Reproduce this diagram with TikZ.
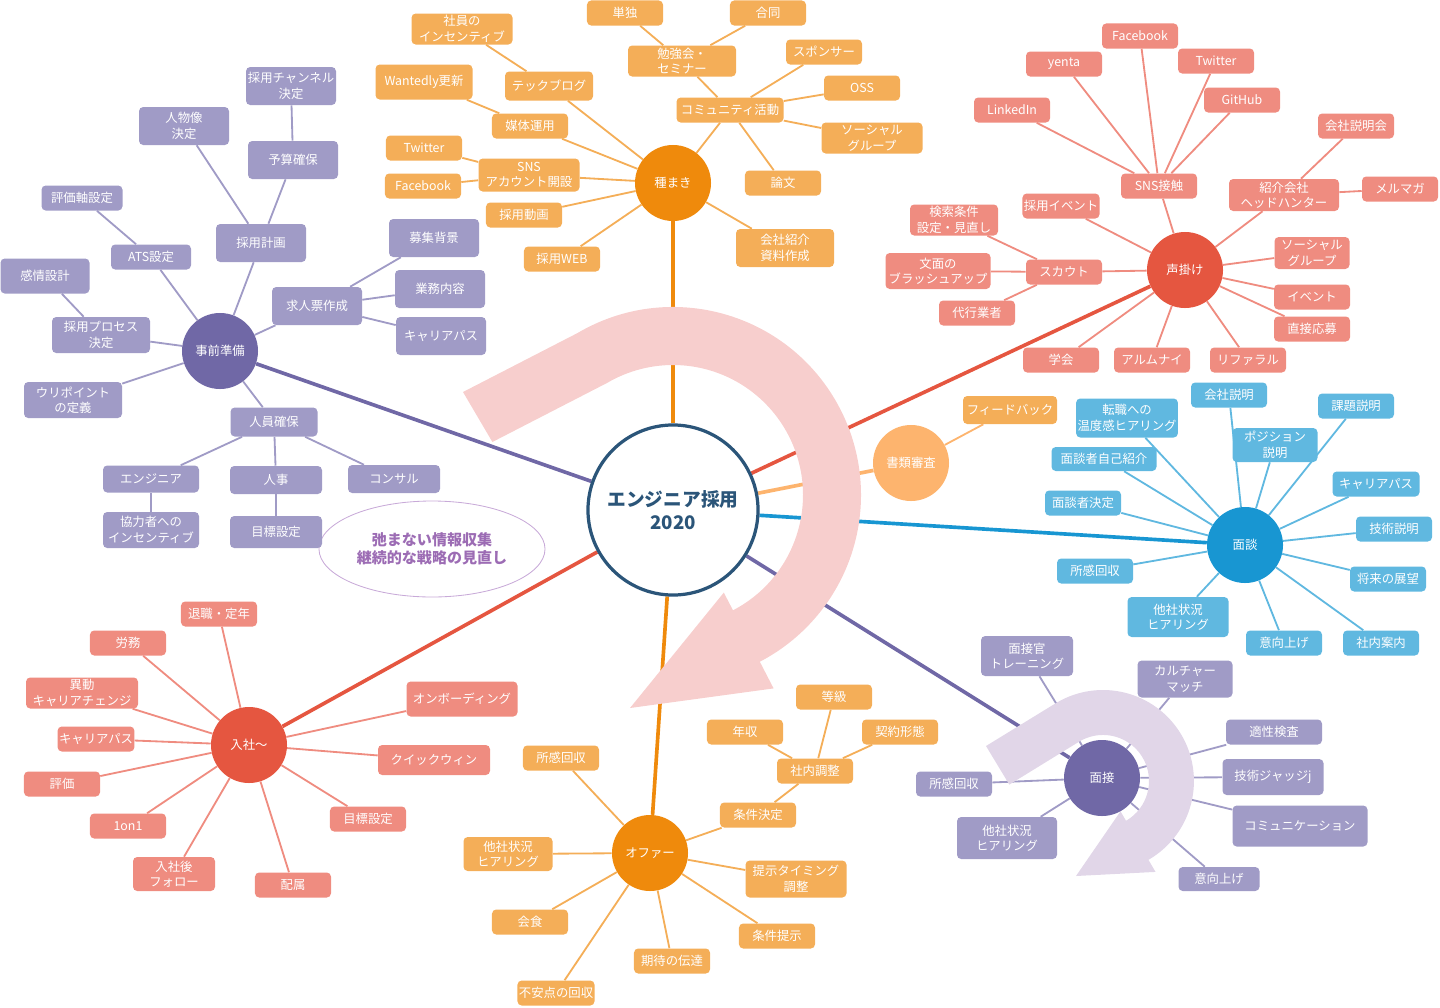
\documentclass[tikz,border=0pt]{standalone}
\usepackage{fontspec}
\setmainfont{Noto Sans CJK JP}
\usepackage{tikz}
\usetikzlibrary{shapes.geometric}
\usepackage{xcolor}
\definecolor{navy}{RGB}{43,85,121}
\definecolor{lilacbox}{RGB}{160,155,198}
\definecolor{lilacdark}{RGB}{112,104,166}
\definecolor{orangebox}{RGB}{244,174,88}
\definecolor{orangedark}{RGB}{239,138,12}
\definecolor{apricot}{RGB}{253,180,110}
\definecolor{salmonbox}{RGB}{239,140,128}
\definecolor{salmondark}{RGB}{229,86,64}
\definecolor{skybox}{RGB}{96,184,224}
\definecolor{skydark}{RGB}{24,150,210}
\definecolor{pinkloop}{RGB}{247,206,205}
\definecolor{lilacloop}{RGB}{225,214,232}
\definecolor{mottotext}{RGB}{156,108,180}
\definecolor{mottoline}{RGB}{200,170,216}
\newcommand\mmfont{\fontsize{8.8}{11}\selectfont}
\pgfdeclarelayer{links}
\pgfdeclarelayer{loops}
\pgfsetlayers{links,loops,main}
\tikzset{%
    sz/.style 2 args={minimum width=#1*0.025cm, minimum height=#2*0.025cm},
    box/.style={rectangle, rounded corners=3pt, inner sep=1pt, text=white,
        font=\mmfont, align=center, minimum width=1.9cm, minimum height=0.625cm},
    pbox/.style={box, fill=lilacbox},
    obox/.style={box, fill=orangebox},
    rbox/.style={box, fill=salmonbox},
    bbox/.style={box, fill=skybox},
    hub/.style={circle, minimum size=1.9cm, inner sep=0pt, text=white, font=\mmfont},
    plink/.style={draw=lilacbox, line width=1.3pt},
    olink/.style={draw=orangebox, line width=1.3pt},
    rlink/.style={draw=salmonbox, line width=1.3pt},
    blink/.style={draw=skybox, line width=1.3pt},
    alink/.style={draw=apricot, line width=1.3pt},
    trunk/.style={line width=2.6pt}
}
\begin{document}
\begin{tikzpicture}[x=0.025cm, y=-0.025cm]
    \useasboundingbox (0,0) rectangle (1440,1007);
    % centre
    \node[circle, draw=navy, line width=2.3pt, fill=white, minimum size=4.25cm, text=navy,
        font=\fontsize{13.3}{16.5}\selectfont\bfseries, align=center] (core) at (673,510) {エンジニア採用\\2020};
    \node[ellipse, draw=mottoline, line width=0.6pt, sz={214}{96}, text=mottotext,
        font=\fontsize{10.7}{12.8}\selectfont\bfseries, align=center] (motto) at (432,549) {弛まない情報収集\\継続的な戦略の見直し};
    % 事前準備
    \node[hub, fill=lilacdark] (prep) at (220,351) {事前準備};
    \node[pbox, sz={90}{38}] (chan) at (291,86) {採用チャンネル\\決定};
    \node[pbox, sz={90}{38}] (jinbutsu) at (184,126) {人物像\\決定};
    \node[pbox, sz={90}{38}] (yosan) at (293,160) {予算確保};
    \node[pbox, sz={81}{25}] (hyouka) at (82,198) {評価軸設定};
    \node[pbox, sz={90}{38}] (keikaku) at (261,243) {採用計画};
    \node[pbox, sz={80}{25}] (ats) at (151,257) {ATS設定};
    \node[pbox, sz={89}{35}] (kanjou) at (45,276) {感情設計};
    \node[pbox, sz={90}{38}] (haikei) at (434,238) {募集背景};
    \node[pbox, sz={90}{38}] (kyujin) at (317,306) {求人票作成};
    \node[pbox, sz={90}{38}] (gyomu) at (440,289) {業務内容};
    \node[pbox, sz={90}{38}] (pcareer) at (441,336) {キャリアパス};
    \node[pbox, sz={98}{36}] (process) at (101,335) {採用プロセス\\決定};
    \node[pbox, sz={98}{36}] (uri) at (73,400) {ウリポイント\\の定義};
    \node[pbox, sz={87}{29}] (jinin) at (274,422) {人員確保};
    \node[pbox, sz={96}{27}] (eng) at (151,479) {エンジニア};
    \node[pbox, sz={92}{28}] (jinji) at (276,480) {人事};
    \node[pbox, sz={92}{28}] (consul) at (394,479) {コンサル};
    \node[pbox, sz={96}{36}] (kyoryoku) at (151,530) {協力者への\\インセンティブ};
    \node[pbox, sz={92}{32}] (pgoal) at (276,532) {目標設定};
    % 種まき
    \node[hub, fill=orangedark] (seed) at (673,183) {種まき};
    \node[obox, sz={101}{31}] (incent) at (462,29) {社員の\\インセンティブ};
    \node[obox, sz={97}{35}] (wantedly) at (424,82) {Wantedly更新};
    \node[obox, sz={88}{29}] (techblog) at (549,86) {テックブログ};
    \node[obox] (baitai) at (530,126) {媒体運用};
    \node[obox] (otw) at (424,148) {Twitter};
    \node[obox] (ofb) at (423,186) {Facebook};
    \node[obox, sz={101}{33}] (sns) at (529,175) {SNS\\アカウント開設};
    \node[obox] (douga) at (524,215) {採用動画};
    \node[obox] (web) at (562,259) {採用WEB};
    \node[obox, sz={98}{38}] (shiryo) at (785,248) {会社紹介\\資料作成};
    \node[obox] (ronbun) at (783,183) {論文};
    \node[obox, sz={107}{25}] (community) at (730,110) {コミュニティ活動};
    \node[obox, sz={108}{31}] (benkyo) at (682,61) {勉強会・\\セミナー};
    \node[obox] (tandoku) at (625,13) {単独};
    \node[obox] (goudou) at (768,13) {合同};
    \node[obox] (sponsor) at (824,52) {スポンサー};
    \node[obox] (oss) at (862,88) {OSS};
    \node[obox, sz={101}{31}] (osocial) at (872,138) {ソーシャル\\グループ};
    % 声掛け
    \node[hub, fill=salmondark] (koe) at (1185,270) {声掛け};
    \node[rbox] (rfb) at (1140,36) {Facebook};
    \node[rbox] (yenta) at (1064,64) {yenta};
    \node[rbox] (rtw) at (1216,61) {Twitter};
    \node[rbox] (linkedin) at (1012,110) {LinkedIn};
    \node[rbox] (github) at (1242,100) {GitHub};
    \node[rbox] (setsumeikai) at (1356,126) {会社説明会};
    \node[rbox] (snscontact) at (1159,186) {SNS接触};
    \node[rbox, sz={110}{32}] (agent) at (1284,195) {紹介会社\\ヘッドハンター};
    \node[rbox] (mailmag) at (1400,189) {メルマガ};
    \node[rbox] (revent) at (1061,206) {採用イベント};
    \node[rbox, sz={88}{31}] (kensaku) at (954,220) {検索条件\\設定・見直し};
    \node[rbox, sz={105}{36}] (bunmen) at (938,271) {文面の\\ブラッシュアップ};
    \node[rbox] (scout) at (1064,272) {スカウト};
    \node[rbox] (daikou) at (977,313) {代行業者};
    \node[rbox, sz={75}{32}] (rsocial) at (1312,253) {ソーシャル\\グループ};
    \node[rbox] (event) at (1312,297) {イベント};
    \node[rbox] (direct) at (1312,329) {直接応募};
    \node[rbox] (gakkai) at (1061,360) {学会};
    \node[rbox] (alumni) at (1152,360) {アルムナイ};
    \node[rbox] (referral) at (1248,360) {リファラル};
    % 書類審査
    \node[hub, fill=apricot] (shorui) at (911,463) {書類審査};
    \node[obox, sz={94}{28}] (feedback) at (1010,410) {フィードバック};
    % 面談
    \node[hub, fill=skydark] (mendan) at (1245,545) {面談};
    \node[bbox] (kaisha) at (1229,395) {会社説明};
    \node[bbox, sz={100}{39}] (ondo) at (1127,418) {転職への\\温度感ヒアリング};
    \node[bbox] (kadai) at (1356,406) {課題説明};
    \node[bbox, sz={85}{34}] (position) at (1275,445) {ポジション\\説明};
    \node[bbox, sz={105}{24}] (jiko) at (1104,459) {面談者自己紹介};
    \node[bbox] (mkettei) at (1083,503) {面談者決定};
    \node[bbox, sz={87}{25}] (bcareer) at (1376,484) {キャリアパス};
    \node[bbox] (gijutsu) at (1394,529) {技術説明};
    \node[bbox] (bshokan) at (1095,571) {所感回収};
    \node[bbox] (shorai) at (1388,579) {将来の展望};
    \node[bbox, sz={101}{40}] (btasha) at (1178,617) {他社状況\\ヒアリング};
    \node[bbox] (biko) at (1284,643) {意向上げ};
    \node[bbox] (annai) at (1381,643) {社内案内};
    % 入社〜
    \node[hub, fill=salmondark] (nyusha) at (249,745) {入社〜};
    \node[rbox] (taishoku) at (219,614) {退職・定年};
    \node[rbox] (roumu) at (128,643) {労務};
    \node[rbox, sz={112}{31}] (idou) at (82,693) {異動\\キャリアチェンジ};
    \node[rbox] (rcareer) at (96,739) {キャリアパス};
    \node[rbox] (hyoka) at (62,784) {評価};
    \node[rbox] (oneonone) at (128,826) {1on1};
    \node[rbox, sz={82}{34}] (follow) at (174,874) {入社後\\フォロー};
    \node[rbox] (haizoku) at (293,885) {配属};
    \node[rbox] (rgoal) at (368,819) {目標設定};
    \node[rbox, sz={112}{30}] (quickwin) at (434,760) {クイックウィン};
    \node[rbox, sz={111}{35}] (onboard) at (462,699) {オンボーディング};
    % オファー
    \node[hub, fill=orangedark] (offer) at (650,853) {オファー};
    \node[obox] (oshokan) at (561,758) {所感回収};
    \node[obox, sz={89}{34}] (otasha) at (508,854) {他社状況\\ヒアリング};
    \node[obox] (kaishoku) at (530,922) {会食};
    \node[obox] (fuan) at (556,993) {不安点の回収};
    \node[obox] (kitai) at (672,961) {期待の伝達};
    \node[obox] (teiji) at (777,936) {条件提示};
    \node[obox, sz={101}{37}] (timing) at (796,879) {提示タイミング\\調整};
    \node[obox] (jkettei) at (758,815) {条件決定};
    \node[obox] (chousei) at (815,771) {社内調整};
    \node[obox] (nenshu) at (745,732) {年収};
    \node[obox] (toukyu) at (834,697) {等級};
    \node[obox] (keiyaku) at (900,732) {契約形態};
    % 面接
    \node[hub, fill=lilacdark] (mensetsu) at (1102,778) {面接};
    \node[pbox, sz={92}{40}] (training) at (1027,656) {面接官\\トレーニング};
    \node[pbox, sz={95}{37}] (culture) at (1185,679) {カルチャー\\マッチ};
    \node[pbox, sz={96}{25}] (tekisei) at (1274,732) {適性検査};
    \node[pbox, sz={101}{36}] (judge) at (1273,777) {技術ジャッジj};
    \node[pbox, sz={135}{41}] (comm) at (1300,826) {コミュニケーション};
    \node[pbox, sz={81}{24}] (piko) at (1219,879) {意向上げ};
    \node[pbox] (pshokan) at (954,784) {所感回収};
    \node[pbox, sz={100}{42}] (ptasha) at (1007,838) {他社状況\\ヒアリング};

    \begin{pgfonlayer}{loops}
    \fill[pinkloop] (463,392) -- (577.6,333) arc[start angle=-120.5, end angle=62.5, radius=188]
        -- (773.6,688.4) -- (630,708) -- (723.8,592.6) -- (733,610.3)
        arc[start angle=62.5, end angle=-120.5, radius=130] -- (492.4,442) -- cycle;
    \fill[lilacloop] (986,746) -- (1056.1,703) arc[start angle=-121, end angle=60, radius=91]
        -- (1155.5,871.9) -- (1076,876) -- (1120.5,811.3) -- (1126,820.8)
        arc[start angle=60, end angle=-121, radius=46] -- (1009.3,784.6) -- cycle;
    \end{pgfonlayer}

    \begin{pgfonlayer}{links}
    \draw[trunk, lilacdark] (core) -- (prep);
    \draw[trunk, orangedark] (core) -- (seed);
    \draw[trunk, salmondark] (core) -- (koe);
    \draw[trunk, apricot] (core) -- (shorui);
    \draw[trunk, skydark] (core) -- (mendan);
    \draw[trunk, lilacdark] (core) -- (mensetsu);
    \draw[trunk, orangedark] (core) -- (offer);
    \draw[trunk, salmondark] (core) -- (nyusha);
    \foreach \n in {keikaku,ats,process,uri,jinin,kyujin}
        \draw[plink] (prep) -- (\n);
    \foreach \a/\b in {keikaku/jinbutsu,keikaku/yosan,yosan/chan,ats/hyouka,process/kanjou,
        kyujin/haikei,kyujin/gyomu,kyujin/pcareer,jinin/eng,jinin/jinji,jinin/consul,
        eng/kyoryoku,jinji/pgoal}
        \draw[plink] (\a) -- (\b);
    \foreach \n in {techblog,baitai,sns,douga,web,community,shiryo}
        \draw[olink] (seed) -- (\n);
    \foreach \a/\b in {techblog/incent,baitai/wantedly,sns/otw,sns/ofb,community/benkyo,
        community/sponsor,community/oss,community/osocial,community/ronbun,
        benkyo/tandoku,benkyo/goudou}
        \draw[olink] (\a) -- (\b);
    \foreach \n in {snscontact,agent,rsocial,event,direct,referral,alumni,gakkai,scout,revent}
        \draw[rlink] (koe) -- (\n);
    \foreach \a/\b in {snscontact/linkedin,snscontact/yenta,snscontact/rfb,snscontact/rtw,
        snscontact/github,agent/setsumeikai,agent/mailmag,scout/kensaku,scout/bunmen,
        scout/daikou}
        \draw[rlink] (\a) -- (\b);
    \draw[alink] (shorui) -- (feedback);
    \foreach \n in {kaisha,ondo,kadai,position,jiko,mkettei,bcareer,gijutsu,bshokan,
        shorai,btasha,biko,annai}
        \draw[blink] (mendan) -- (\n);
    \foreach \n in {taishoku,roumu,idou,rcareer,hyoka,oneonone,follow,haizoku,rgoal,
        quickwin,onboard}
        \draw[rlink] (nyusha) -- (\n);
    \foreach \n in {oshokan,otasha,kaishoku,fuan,kitai,teiji,timing,jkettei}
        \draw[olink] (offer) -- (\n);
    \foreach \a/\b in {jkettei/chousei,chousei/nenshu,chousei/toukyu,chousei/keiyaku}
        \draw[olink] (\a) -- (\b);
    \foreach \n in {training,culture,tekisei,judge,comm,piko,pshokan,ptasha}
        \draw[plink] (mensetsu) -- (\n);
    \end{pgfonlayer}
\end{tikzpicture}
\end{document}
